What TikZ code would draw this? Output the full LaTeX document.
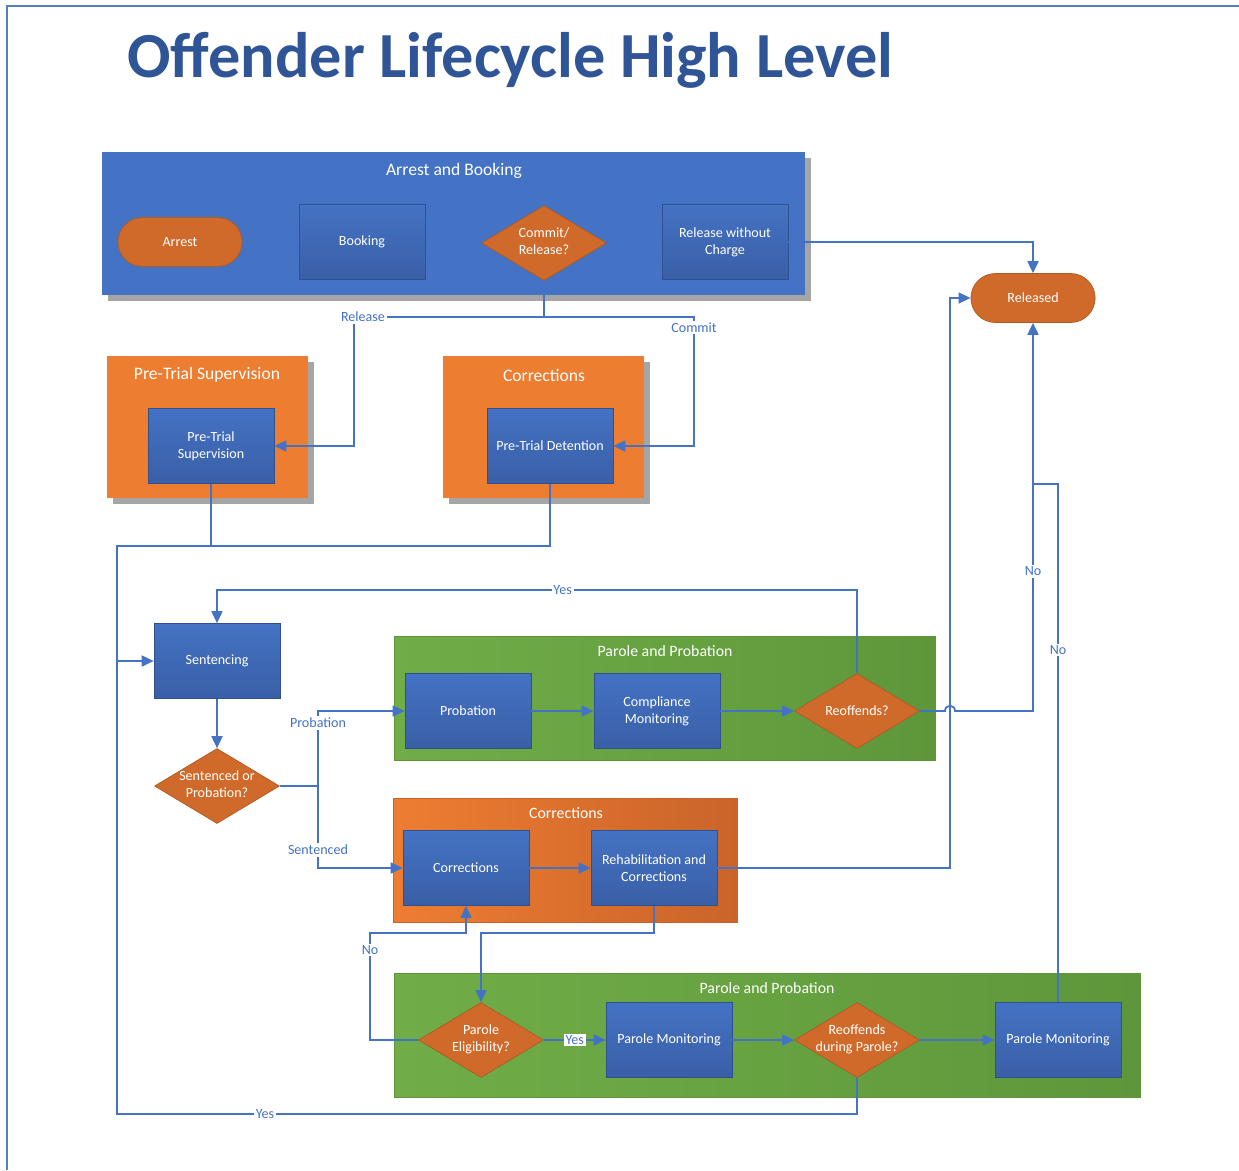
\documentclass[tikz,border=0pt]{standalone}
\usepackage{fontspec}
\setmainfont{Carlito}
\usepackage{xcolor}
\usepackage{tikz}
\usetikzlibrary{arrows.meta}
\usetikzlibrary{shapes.geometric}
\usetikzlibrary{shapes.misc}
\usetikzlibrary{shadows}
\definecolor{lineblue}{HTML}{4472C4}
\definecolor{grpblue}{HTML}{4472C4}
\definecolor{boxtop}{HTML}{4472C4}
\definecolor{boxbot}{HTML}{3A5FA6}
\definecolor{boxedge}{HTML}{2F528F}
\definecolor{decfill}{HTML}{D06A2B}
\definecolor{decedge}{HTML}{AE5A21}
\definecolor{grporange}{HTML}{ED7D31}
\definecolor{grporangeb}{HTML}{CA642A}
\definecolor{grpgreen}{HTML}{70AD47}
\definecolor{grpgreenb}{HTML}{5E973B}
\definecolor{titleblue}{HTML}{2F5597}
\definecolor{shgrey}{HTML}{A5A5A5}
\definecolor{pageedge}{HTML}{5A7DBE}
\tikzset{>={Triangle[length=0.24cm,width=0.22cm]}}
\tikzstyle{grp} = [rectangle, inner sep=0, draw=none]
\tikzstyle{hardshadow} = [general shadow={fill=shgrey, shadow xshift=0.12cm, shadow yshift=-0.12cm}]
\tikzstyle{gtitle} = [text=white, inner sep=0, font=\fontsize{10}{12}\selectfont]
\tikzstyle{gtitlesm} = [gtitle, font=\fontsize{9}{11}\selectfont]
\tikzstyle{box} = [rectangle, draw=boxedge, top color=boxtop, bottom color=boxbot, minimum width=2.52cm, minimum height=1.5cm, text=white, align=center, font=\fontsize{8}{9.6}\selectfont]
\tikzstyle{dec} = [diamond, draw=decedge, fill=decfill, minimum width=2.5cm, minimum height=1.5cm, inner sep=0, text=white, font=\fontsize{8}{9.6}\selectfont]
\tikzstyle{term} = [rounded rectangle, draw=decedge, fill=decfill, minimum width=2.72cm, minimum height=0.98cm, text=white, font=\fontsize{8}{9.6}\selectfont]
\tikzstyle{flow} = [->, draw=lineblue, line width=1pt]
\tikzstyle{wire} = [-, draw=lineblue, line width=1pt]
\tikzstyle{lbl} = [fill=white, text=lineblue, inner sep=1pt, font=\fontsize{8}{9.6}\selectfont]
\newcommand{\declines}[1]{\makebox[0pt]{\begin{tabular}{@{}c@{}}#1\end{tabular}}}

\begin{document}
\begin{tikzpicture}[x=0.02cm, y=-0.02cm]
\useasboundingbox (0,0) rectangle (1239,1170);
\draw [pageedge, line width=0.8pt] (1239,6) -- (7,6) -- (7,1170);
\node [anchor=base west, inner sep=0, text=titleblue, font=\fontsize{36.6}{40}\selectfont\bfseries] (title) at (127,77) {Offender Lifecycle High Level};

% groups
\node [grp, hardshadow, fill=grpblue, minimum width=14.06cm, minimum height=2.86cm] (gab) at (453.5,223.5) {};
\node [gtitle] at (454,171) {Arrest and Booking};
\node [grp, hardshadow, fill=grporange, minimum width=4.02cm, minimum height=2.84cm] (gpts) at (207.5,427) {};
\node [gtitle] at (207,375) {Pre-Trial Supervision};
\node [grp, hardshadow, fill=grporange, minimum width=4.02cm, minimum height=2.84cm] (gcor) at (543.5,427) {};
\node [gtitle] at (544,375) {Corrections};
\node [grp, left color=grpgreen, right color=grpgreenb, draw=grpgreenb, minimum width=10.82cm, minimum height=2.48cm] (gpp) at (664.5,698) {};
\node [gtitlesm] at (665,651) {Parole and Probation};
\node [grp, left color=grporange, right color=grporangeb, draw=grporangeb, minimum width=6.88cm, minimum height=2.48cm] (gcorr) at (565,860) {};
\node [gtitlesm] at (566,813) {Corrections};
\node [grp, left color=grpgreen, right color=grpgreenb, draw=grpgreenb, minimum width=14.92cm, minimum height=2.48cm] (gpar) at (767,1035) {};
\node [gtitlesm] at (767,988) {Parole and Probation};

% steps
\node [term] (arrest) at (180,242) {Arrest};
\node [box] (book) at (362,242) {Booking};
\node [dec] (cr) at (544,243) {\declines{Commit/\\Release?}};
\node [box] (rwc) at (725,242) {Release without\\Charge};
\node [term] (rel) at (1033,298) {Released};
\node [box] (ptsup) at (211,446) {Pre-Trial\\Supervision};
\node [box] (ptdet) at (550,446) {Pre-Trial Detention};
\node [box] (sent) at (217,661) {Sentencing};
\node [dec] (so) at (217,786) {\declines{Sentenced or\\Probation?}};
\node [box] (prob) at (468,711) {Probation};
\node [box] (comp) at (657,711) {Compliance\\Monitoring};
\node [dec] (reo) at (857,711) {Reoffends?};
\node [box] (corr) at (466,868) {Corrections};
\node [box] (reh) at (654,868) {Rehabilitation and\\Corrections};
\node [dec] (pe) at (481,1040) {\declines{Parole\\Eligibility?}};
\node [box] (pm1) at (669,1040) {Parole Monitoring};
\node [dec] (rdp) at (857,1040) {\declines{Reoffends\\during Parole?}};
\node [box] (pm2) at (1058,1040) {Parole Monitoring};

% connectors
\draw [flow] (rwc.east) -| (rel.north);
\draw [flow] (cr.south) |- (354,317) |- (ptsup.east);
\draw [flow] (cr.south) |- (694,317) |- node[lbl, pos=0.04] {Commit} (ptdet.east);
\node [lbl] at (363,317) {Release};
\draw [flow] (ptsup.south) |- (117,546) |- (sent.west);
\draw [wire] (ptdet.south) |- (211,546);
\draw [wire] (rdp.south) |- node[lbl, pos=0.9] {Yes} (117,1114) -- (117,661);
\draw [flow] (reo.north) -- (857,590) -| node[lbl, pos=0.23] {Yes} (sent.north);
\draw [flow] (sent) -- (so);
\draw [flow] (so.east) -- (318,786) |- node[lbl, pos=0.42] {Probation} (prob.west);
\draw [flow] (so.east) -- (318,786) |- node[lbl, pos=0.39] {Sentenced} (corr.west);
\draw [flow] (prob) -- (comp);
\draw [flow] (comp) -- (reo);
\draw [flow] (reo.east) -- (945,711) .. controls +(0,-7) and +(0,-7) .. (955,711) -- (1033,711) -- node[lbl, pos=0.36] {No} (rel.south);
\draw [flow] (corr) -- (reh);
\draw [flow] (reh.east) -- (950,868) |- (rel.west);
\draw [flow] (reh.south) -- (654,933) -| (pe.north);
\draw [flow] (pe.west) -- (370,1040) |- node[lbl, pos=0.42] {No} (466,933) -- (corr.south);
\draw [flow] (pe) -- node[lbl] {Yes} (pm1);
\draw [flow] (pm1) -- (rdp);
\draw [flow] (rdp) -- (pm2);
\draw [wire] (pm2.north) -- node[lbl, pos=0.68] {No} (1058,484) -- (1033,484);
\end{tikzpicture}
\end{document}
